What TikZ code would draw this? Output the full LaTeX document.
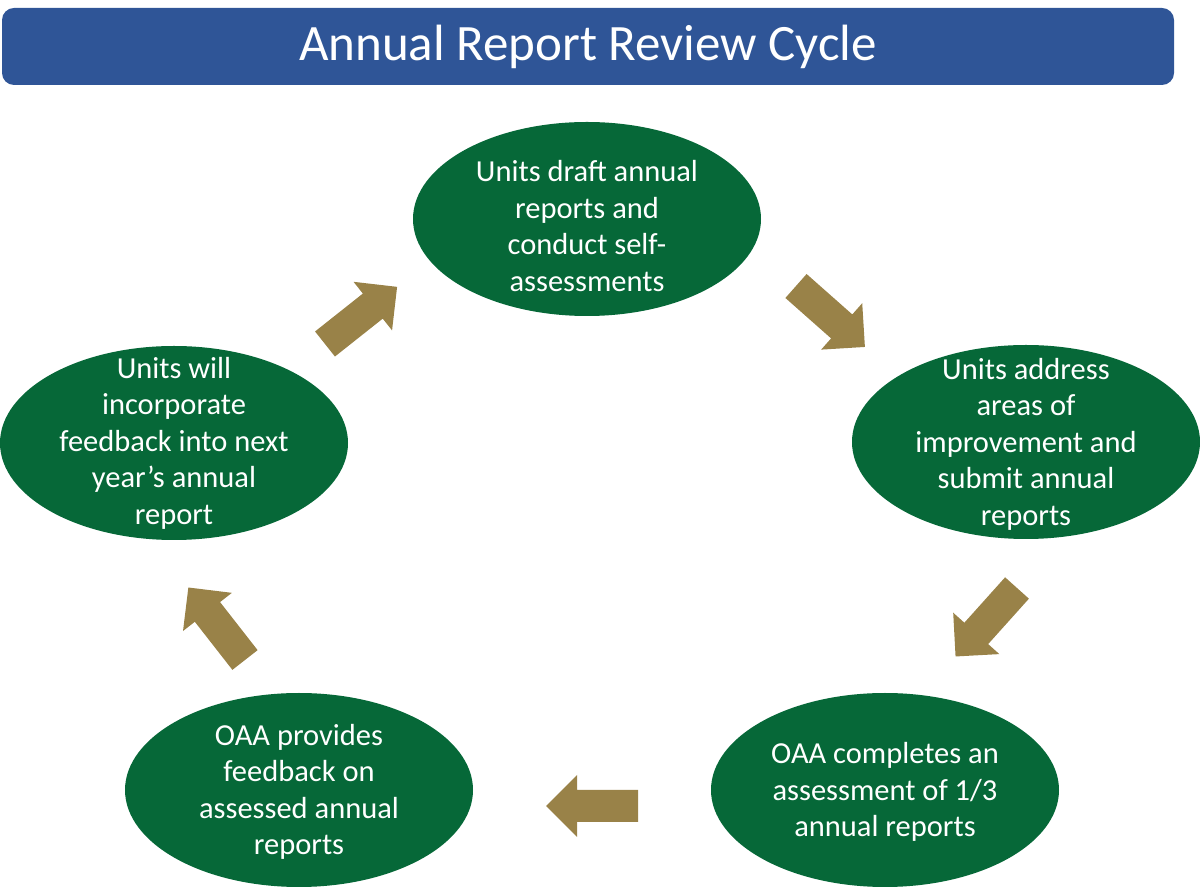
\documentclass[tikz,border=0pt]{standalone}
\usepackage{fontspec}
\setmainfont{Carlito}
\usetikzlibrary{shapes.geometric}
\definecolor{titleblue}{RGB}{47,85,151}
\definecolor{cyclegreen}{RGB}{6,104,56}
\definecolor{arrowgold}{RGB}{153,130,72}
\tikzset{
  titlebar/.style={fill=titleblue, draw=none, rounded corners=12pt, minimum width=1172pt, minimum height=77pt, inner sep=0pt, text=white, font=\fontsize{51}{60}\selectfont},
  stage/.style={ellipse, fill=cyclegreen, draw=none, minimum width=348pt, minimum height=194pt, inner sep=0pt},
  stagetext/.style={text=white, align=center, inner sep=0pt, font=\fontsize{30.5}{36.5}\selectfont},
  blockarrow/.style={fill=arrowgold, draw=none}
}
\newcommand{\cyclearrow}[4]{% name, x, y, angle
  \coordinate (#1) at (#2,#3);
  \fill[blockarrow, shift={(#1)}, rotate=#4]
    (0,-16) -- (61,-16) -- (61,-31) -- (92,0) -- (61,31) -- (61,16) -- (0,16) -- cycle;
}
\begin{document}
\begin{tikzpicture}[x=1pt,y=1pt]
\useasboundingbox (0,0) rectangle (1200,889);
\node[titlebar] (title) at (588,842.5) {Annual Report Review Cycle};

\node[stage] (e1) at (587,670) {};
\node[stagetext] (t1) at (587,663) {Units draft annual\\reports and\\conduct self-\\assessments};

\node[stage] (e2) at (1026,447) {};
\node[stagetext] (t2) at (1026,445) {Units address\\areas of\\improvement and\\submit annual\\reports};

\node[stage] (e3) at (885,99) {};
\node[stagetext] (t3) at (885,97) {OAA completes an\\assessment of 1/3\\annual reports};

\node[stage] (e4) at (299,99) {};
\node[stagetext] (t4) at (299,97) {OAA provides\\feedback on\\assessed annual\\reports};

\node[stage] (e5) at (174,446) {};
\node[stagetext] (t5) at (174,446) {Units will\\incorporate\\feedback into next\\year’s annual\\report};

\cyclearrow{a1}{325}{545}{38.4}
\cyclearrow{a2}{796}{603}{-41.5}
\cyclearrow{a3}{1017}{301}{-131.9}
\cyclearrow{a4}{638}{83}{180}
\cyclearrow{a5}{245}{229}{128}
\end{tikzpicture}
\end{document}
